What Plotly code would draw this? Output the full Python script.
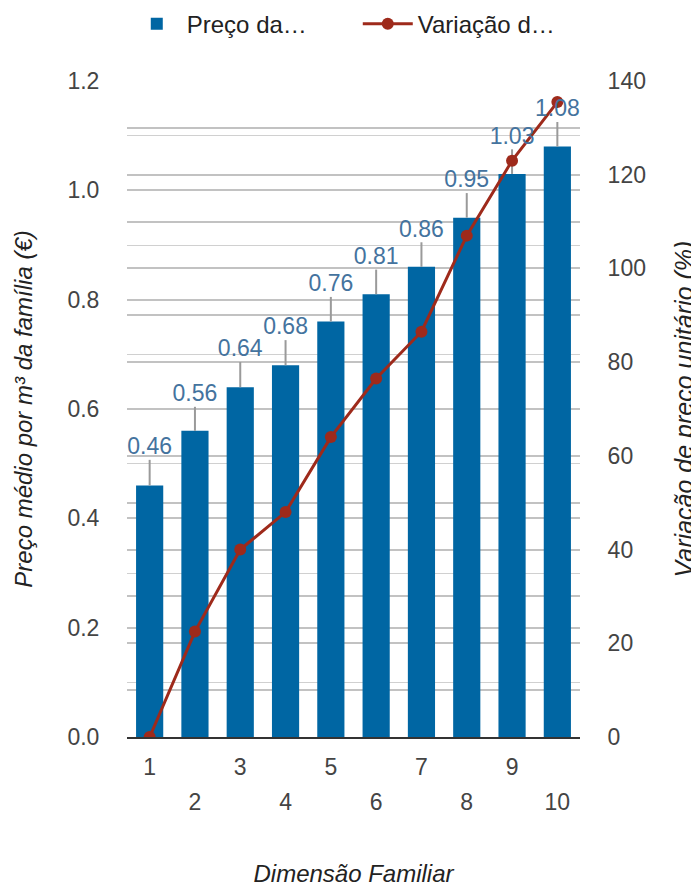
import plotly.graph_objects as go

categories = [1, 2, 3, 4, 5, 6, 7, 8, 9, 10]
preco = [0.46, 0.56, 0.64, 0.68, 0.76, 0.81, 0.86, 0.95, 1.03, 1.08]
intervalo = [0.047, 0.044, 0.046, 0.046, 0.045, 0.045, 0.045, 0.045, 0.045, 0.045]
variacao = [0, 22.5, 40, 48, 64, 76.5, 86.5, 107, 123, 135.5]
labels = ["0.46", "0.56", "0.64", "0.68", "0.76", "0.81", "0.86", "0.95", "1.03", "1.08"]
odd_ticks = [1, 3, 5, 7, 9]
even_ticks = [2, 4, 6, 8, 10]

FONT = "Liberation Sans, Arial, sans-serif"
BAR_C = "#0066a3"
LINE_C = "#9e2a1b"
GRID_C = "#c2c2c2"
TICK_FS = 23
TITLE_FS = 24

fig = go.Figure()
fig.add_trace(go.Bar(
    x=categories, y=preco, name="Preço da…",
    marker=dict(color=BAR_C, line=dict(width=0)),
    error_y=dict(type="data", symmetric=False, array=intervalo,
                 arrayminus=[0] * len(preco), color="#9a9a9a", thickness=2, width=0),
    hoverinfo="skip",
))
fig.add_trace(go.Scatter(
    x=categories, y=[p + e for p, e in zip(preco, intervalo)],
    mode="text", text=labels, textposition="top center",
    textfont=dict(family=FONT, size=TICK_FS, color="#44739e"),
    showlegend=False, hoverinfo="skip", xaxis="x2", yaxis="y",
))
fig.add_trace(go.Scatter(
    x=categories, y=variacao, name="Variação d…", yaxis="y2",
    mode="lines+markers",
    line=dict(color=LINE_C, width=3),
    marker=dict(color=LINE_C, size=12),
    hoverinfo="skip",
))

fig.update_layout(
    width=691, height=879,
    margin=dict(l=119, r=119, t=73, b=150, autoexpand=False),
    plot_bgcolor="white", paper_bgcolor="white",
    font=dict(family=FONT, size=TICK_FS, color="#444444"),
    bargap=0.4,
    showlegend=True,
    legend=dict(orientation="h", x=-0.0005, y=1.121, xanchor="left", yanchor="top",
                font=dict(family=FONT, size=TITLE_FS, color="#222222"),
                itemwidth=50, entrywidth=166, traceorder="normal",
                bgcolor="rgba(0,0,0,0)"),
    xaxis=dict(
        range=[0.5, 10.5], tickmode="array", tickvals=odd_ticks,
        ticktext=[str(v) for v in odd_ticks],
        ticks="outside", ticklen=8, tickcolor="rgba(0,0,0,0)",
        showgrid=False, zeroline=False, automargin=False,
        showline=True, linecolor="#333333", linewidth=2,
        tickfont=dict(size=TICK_FS, color="#444444"),
        title=dict(text="<i>Dimensão Familiar</i>", standoff=90,
                   font=dict(size=TITLE_FS, color="#222222")),
    ),
    xaxis2=dict(
        overlaying="x", anchor="y", side="bottom", matches="x",
        range=[0.5, 10.5], tickmode="array", tickvals=even_ticks,
        ticktext=[str(v) for v in even_ticks],
        ticks="outside", ticklen=44, tickcolor="rgba(0,0,0,0)",
        showgrid=False, zeroline=False, showline=False, automargin=False,
        tickfont=dict(size=TICK_FS, color="#444444"),
    ),
    yaxis=dict(
        range=[0, 1.2], dtick=0.2, tick0=0, tickformat=".1f",
        ticks="outside", ticklen=22, tickcolor="rgba(0,0,0,0)",
        showgrid=True, gridcolor=GRID_C, gridwidth=2, zeroline=False, automargin=False,
        minor=dict(dtick=0.1, tick0=0, showgrid=True, gridcolor="#d0d0d0", gridwidth=1),
        tickfont=dict(size=TICK_FS, color="#444444"),
        title=dict(text="<i>Preço médio por m³ da família (€)</i>", standoff=28,
                   font=dict(size=TITLE_FS, color="#222222")),
    ),
    yaxis2=dict(
        overlaying="y", side="right", anchor="x", automargin=False,
        range=[0, 140], dtick=20, tick0=0,
        ticks="outside", ticklen=22, tickcolor="rgba(0,0,0,0)",
        showgrid=True, gridcolor=GRID_C, gridwidth=2, zeroline=False,
        minor=dict(dtick=10, tick0=0, showgrid=True, gridcolor=GRID_C, gridwidth=2),
        tickfont=dict(size=TICK_FS, color="#444444"),
        title=dict(text="<i>Variação de preço unitário (%)</i>", standoff=30,
                   font=dict(size=TITLE_FS + 1, color="#222222")),
    ),
)

fig.write_html("out.html")
